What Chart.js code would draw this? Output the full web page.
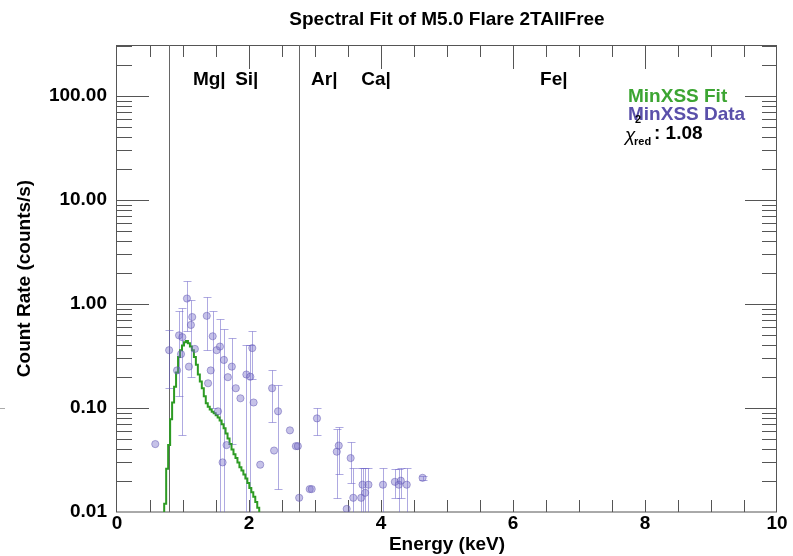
<!DOCTYPE html>
<html>
<head>
<meta charset="utf-8">
<script src="https://cdn.jsdelivr.net/npm/chart.js@4.4.1/dist/chart.umd.min.js"></script>
<style>
html,body{margin:0;padding:0;background:#ffffff;}
canvas{display:block;}
</style>
</head>
<body>
<canvas id="c" width="793" height="556"></canvas>
<script>
// ---------- data ----------
const energyKeV = [0.58,0.79,0.91,0.94,0.97,0.99,1.06,1.09,1.12,1.14,1.18,1.36,1.38,1.42,1.45,1.51,1.53,1.56,1.60,1.62,1.66,1.68,1.74,1.80,1.87,1.96,2.02,2.05,2.07,2.17,2.35,2.38,2.44,2.62,2.71,2.74,2.76,2.92,2.95,3.03,3.33,3.36,3.48,3.54,3.58,3.70,3.72,3.76,3.81,4.03,4.21,4.27,4.30,4.39,4.63];
const countRate = [0.045,0.36,0.23,0.50,0.33,0.48,1.13,0.25,0.63,0.75,0.37,0.77,0.173,0.23,0.49,0.36,0.093,0.39,0.030,0.29,0.044,0.198,0.25,0.155,0.124,0.21,0.20,0.377,0.113,0.0285,0.155,0.039,0.093,0.061,0.043,0.043,0.0137,0.0166,0.0166,0.0795,0.038,0.0435,0.0107,0.033,0.0137,0.0137,0.0183,0.0153,0.0183,0.0183,0.0195,0.0183,0.020,0.0183,0.0213];
const errLow  = [null,0.155,null,0.13,null,0.055,0.55,null,0.20,null,null,0.36,null,null,0.10,null,null,0.001,null,0.001,null,null,0.045,null,null,0.001,0.001,0.19,null,null,0.074,null,0.0166,null,null,null,null,null,null,0.055,0.0137,0.023,null,0.019,0.001,0.001,0.001,0.001,0.001,0.001,0.0137,0.001,0.0137,0.001,0.0205];
const errHigh = [null,0.56,null,0.86,null,0.92,1.65,null,1.10,null,null,1.17,null,null,0.86,null,null,0.72,null,0.58,null,null,0.47,null,null,0.40,0.40,0.55,null,null,0.23,null,0.165,null,null,null,null,null,null,0.10,0.063,0.065,null,0.047,0.0267,0.0267,0.0267,0.0267,0.0267,0.0267,0.0257,0.0257,0.0267,0.0267,0.022];

const fitEnergy = [0.70,0.73,0.76,0.79,0.82,0.85,0.88,0.91,0.94,0.97,1.00,1.03,1.06,1.09,1.12,1.15,1.18,1.21,1.24,1.27,1.30,1.33,1.36,1.39,1.42,1.45,1.48,1.51,1.54,1.57,1.60,1.63,1.66,1.69,1.72,1.75,1.78,1.81,1.84,1.87,1.90,1.93,1.96,1.99,2.02,2.05,2.08,2.11,2.14,2.17,2.20];
const fitRate   = [0.003,0.012,0.026,0.044,0.078,0.113,0.16,0.22,0.31,0.36,0.40,0.43,0.44,0.42,0.39,0.36,0.31,0.26,0.21,0.18,0.155,0.13,0.111,0.103,0.097,0.092,0.089,0.085,0.081,0.076,0.070,0.064,0.057,0.051,0.045,0.040,0.036,0.033,0.030,0.027,0.025,0.023,0.021,0.019,0.017,0.0155,0.014,0.0125,0.011,0.0098,0.0088];

const fitRangeKeV = [0.79, 2.76];
const elementNames = ['Mg','Si','Ar','Ca','Fe'];
const elementKeV = [1.15, 1.79, 2.94, 3.70, 6.41];
const yTickValues = [0.01, 0.1, 1, 10, 100];
const xTickValues = [0, 2, 4, 6, 8, 10];
const chartTitle = 'Spectral Fit of M5.0 Flare 2TAllFree';
const chiSqRed = '1.08';

// ---------- styling ----------
const FONT = '"Liberation Sans", Arial, Helvetica, sans-serif';
const FIT_COLOR = 'rgb(45,155,35)';
const FIT_TEXT = 'rgb(60,165,50)';
const DATA_TEXT = 'rgb(90,80,170)';
const ERR_COLOR = 'rgba(110,100,200,0.55)';
const AXIS_COLOR = '#555555';

function seg(ctx, x1, y1, x2, y2){ ctx.beginPath(); ctx.moveTo(x1,y1); ctx.lineTo(x2,y2); ctx.stroke(); }

const idlPlugin = {
  id: 'idlFrame',
  beforeDatasetsDraw(chart) {
    const {ctx, chartArea: a, scales} = chart;
    const xs = scales.x, ys = scales.y;
    ctx.save();
    ctx.lineWidth = 1;
    ctx.strokeStyle = AXIS_COLOR;
    // frame
    ctx.strokeRect(a.left - 0.5, a.top + 0.5, a.right - a.left, a.bottom - a.top - 0.5);
    // x ticks (inward, bottom and top)
    for (let v = 0.5; v < 10; v += 0.5) {
      const px = Math.round(xs.getPixelForValue(v)) + 0.5;
      const major = Math.abs(v % 2) < 1e-9;
      seg(ctx, px, a.bottom, px, a.bottom - 12);
      seg(ctx, px, a.top, px, a.top + (major ? 24 : 12));
    }
    // y ticks (inward, left and right)
    for (let k = -2; k <= 2; k++) {
      for (let m = 1; m <= 9; m++) {
        const v = m * Math.pow(10, k);
        if (v <= ys.min * 1.0001 || v > ys.max) continue;
        const py = Math.round(ys.getPixelForValue(v)) + 0.5;
        const len = m === 1 ? 32 : 15;
        seg(ctx, a.left, py, a.left + len, py);
        seg(ctx, a.right, py, a.right - len, py);
      }
    }
    // fit range lines
    ctx.strokeStyle = '#666666';
    fitRangeKeV.forEach(e => {
      const px = Math.round(xs.getPixelForValue(e)) + 0.5;
      seg(ctx, px, a.top, px, a.bottom);
    });
    // small artifact line at left edge
    ctx.strokeStyle = '#aaaaaa';
    const p01 = Math.round(ys.getPixelForValue(0.1)) + 0.5;
    seg(ctx, 0, p01, 5, p01);
    // error bars
    ctx.beginPath();
    ctx.rect(a.left, a.top, a.right - a.left, a.bottom - a.top);
    ctx.clip();
    ctx.strokeStyle = ERR_COLOR;
    for (let i = 0; i < energyKeV.length; i++) {
      if (errLow[i] == null) continue;
      const px = Math.round(xs.getPixelForValue(energyKeV[i])) + 0.5;
      const yl = Math.round(ys.getPixelForValue(errLow[i])) + 0.5;
      const yh = Math.round(ys.getPixelForValue(errHigh[i])) + 0.5;
      seg(ctx, px, yl, px, yh);
      seg(ctx, px - 4, yh, px + 4, yh);
      if (yl < a.bottom) seg(ctx, px - 4, yl, px + 4, yl);
    }
    ctx.restore();
  },
  afterDatasetsDraw(chart) {
    const {ctx, chartArea: a, scales} = chart;
    const xs = scales.x;
    ctx.save();
    ctx.textBaseline = 'middle';
    ctx.fillStyle = '#000';
    ctx.font = 'bold 19px ' + FONT;
    // title centred over the plot area
    ctx.textAlign = 'center';
    ctx.fillText(chartTitle, (a.left + a.right) / 2, 20);
    ctx.textAlign = 'left';
    elementNames.forEach((n, i) => {
      ctx.fillText(n + '|', xs.getPixelForValue(elementKeV[i]), a.top + 35);
    });
    // legend
    const lx = a.right - 149;
    ctx.fillStyle = FIT_TEXT;
    ctx.fillText('MinXSS Fit', lx, a.top + 52);
    ctx.fillStyle = DATA_TEXT;
    ctx.fillText('MinXSS Data', lx, a.top + 70);
    ctx.fillStyle = '#000';
    ctx.font = 'italic 19px ' + FONT;
    ctx.textBaseline = 'alphabetic';
    ctx.fillText('\u03C7', lx - 3, a.top + 96);
    ctx.font = 'bold 11px ' + FONT;
    ctx.textBaseline = 'middle';
    ctx.fillText('2', lx + 7, a.top + 75);
    ctx.fillText('red', lx + 6, a.top + 97);
    ctx.font = 'bold 19px ' + FONT;
    ctx.fillText(': ' + chiSqRed, lx + 26, a.top + 89);
    ctx.restore();
  }
};

new Chart(document.getElementById('c'), {
  data: {
    datasets: [
      {
        type: 'line',
        label: 'MinXSS Fit',
        data: fitEnergy.map((e, i) => ({x: e, y: fitRate[i]})),
        borderColor: FIT_COLOR,
        borderWidth: 2,
        pointRadius: 0,
        stepped: 'middle',
        fill: false,
        order: 2
      },
      {
        type: 'scatter',
        label: 'MinXSS Data',
        data: energyKeV.map((e, i) => ({x: e, y: countRate[i]})),
        backgroundColor: 'rgba(120,110,200,0.42)',
        borderColor: 'rgba(100,90,180,0.5)',
        borderWidth: 1,
        pointRadius: 3.6,
        order: 1
      }
    ]
  },
  options: {
    responsive: false,
    maintainAspectRatio: false,
    animation: false,
    events: [],
    layout: { padding: { left: 0, right: 16, top: 45, bottom: 0 } },
    plugins: {
      legend: { display: false },
      tooltip: { enabled: false },
      title: { display: false }
    },
    scales: {
      x: {
        type: 'linear',
        min: 0, max: 10,
        grid: { display: false, drawTicks: false },
        border: { display: false },
        afterBuildTicks: s => { s.ticks = xTickValues.map(v => ({value: v})); },
        afterFit: s => { s.height = 44; },
        ticks: {
          padding: 0,
          color: '#000',
          maxRotation: 0,
          font: { family: FONT, size: 19, weight: 'bold', lineHeight: 1.2 },
          callback: v => String(v)
        },
        title: {
          display: true,
          text: 'Energy (keV)',
          color: '#000',
          font: { family: FONT, size: 19, weight: 'bold', lineHeight: 1.2 },
          padding: { top: 0, bottom: 0 }
        }
      },
      y: {
        type: 'logarithmic',
        min: 0.01, max: 310,
        grid: { display: false, drawTicks: false },
        border: { display: false },
        afterBuildTicks: s => { s.ticks = yTickValues.map(v => ({value: v})); },
        afterFit: s => { s.width = 117; },
        ticks: {
          padding: 10,
          color: '#000',
          font: { family: FONT, size: 19, weight: 'bold', lineHeight: 1.2 },
          callback: v => Number(v).toFixed(2)
        },
        title: {
          display: true,
          text: 'Count Rate (counts/s)',
          color: '#000',
          font: { family: FONT, size: 19, weight: 'bold', lineHeight: 1.2 },
          padding: { top: 13.6, bottom: 0 }
        }
      }
    }
  },
  plugins: [idlPlugin]
});
</script>
</body>
</html>
